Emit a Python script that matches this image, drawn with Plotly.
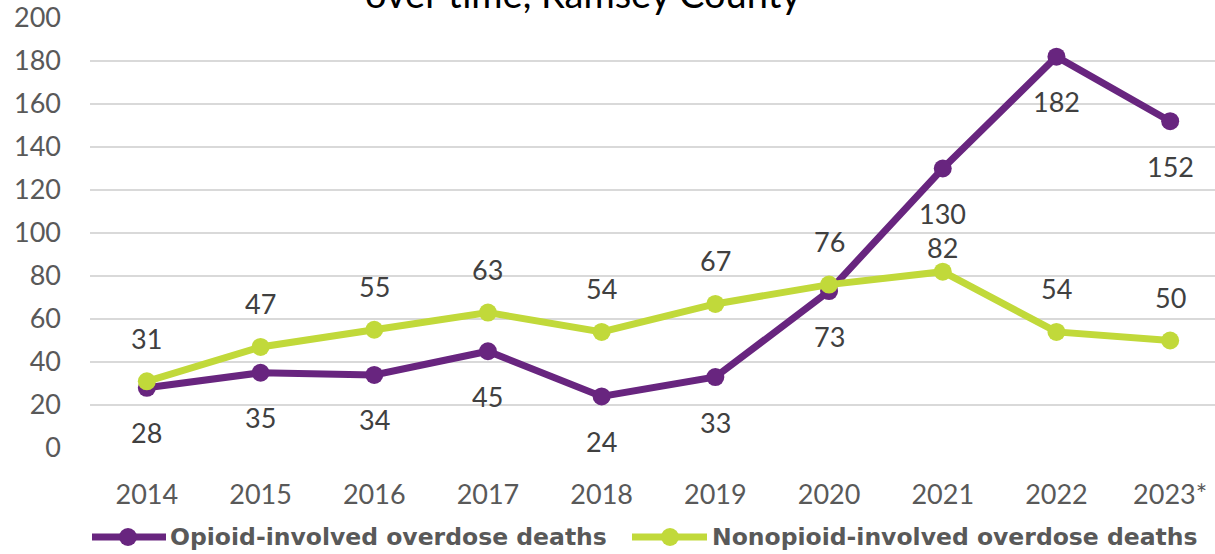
import plotly.graph_objects as go

years = ["2014", "2015", "2016", "2017", "2018", "2019", "2020", "2021", "2022", "2023*"]
opioid = [28, 35, 34, 45, 24, 33, 73, 130, 182, 152]
nonopioid = [31, 47, 55, 63, 54, 67, 76, 82, 54, 50]
series_names = ["Opioid-involved overdose deaths", "Nonopioid-involved overdose deaths"]
title_text = "over time, Ramsey County"

PURPLE = "#68257F"
GREEN = "#C1D93A"
TXT = "#595959"
LBL = "#404040"
FONT = "Lato"

W, H = 1215, 554
L, R, T, B = 90, 0, 18, 106
PW, PH = W - L - R, H - T - B
band = 113.7

fig = go.Figure()
fig.add_trace(go.Scatter(x=years, y=opioid, mode="lines+markers",
                         line=dict(color=PURPLE, width=7),
                         marker=dict(size=18, color=PURPLE),
                         name=series_names[0], showlegend=False, hoverinfo="skip"))
fig.add_trace(go.Scatter(x=years, y=nonopioid, mode="lines+markers",
                         line=dict(color=GREEN, width=7),
                         marker=dict(size=18, color=GREEN),
                         name=series_names[1], showlegend=False, hoverinfo="skip"))

annotations = []
for i, yv in enumerate(opioid):
    annotations.append(dict(x=i, y=yv, xref="x", yref="y", text=str(yv), showarrow=False,
                            yshift=-45, font=dict(family=FONT, size=27, color=LBL)))
for i, yv in enumerate(nonopioid):
    shift = 24 if years[i] == "2021" else 43
    annotations.append(dict(x=i, y=yv, xref="x", yref="y", text=str(yv), showarrow=False,
                            yshift=shift, font=dict(family=FONT, size=27, color=LBL)))

def px(xp):
    return (xp - L) / PW

def py(yp):
    return (T + PH - yp) / PH

# title (cut off at top)
annotations.append(dict(x=px(583), y=py(-7), xref="paper", yref="paper", text=title_text,
                        showarrow=False, xanchor="center", yanchor="middle",
                        font=dict(family=FONT, size=38, color="#000000")))

# manual legend
shapes = []
leg_y = 537
legend_items = [(92, 166, 128, 168, PURPLE, series_names[0]),
                (632, 707, 670, 710, GREEN, series_names[1])]
for x0, x1, mx, tx, col, name in legend_items:
    shapes.append(dict(type="line", xref="paper", yref="paper", x0=px(x0), x1=px(x1),
                       y0=py(leg_y), y1=py(leg_y), line=dict(color=col, width=7)))
    shapes.append(dict(type="circle", xref="paper", yref="paper", x0=px(mx - 9), x1=px(mx + 9),
                       y0=py(leg_y + 9), y1=py(leg_y - 9), fillcolor=col, line=dict(width=0)))
    annotations.append(dict(x=px(tx), y=py(leg_y), xref="paper", yref="paper", text="<b>" + name + "</b>",
                            showarrow=False, xanchor="left", yanchor="middle",
                            font=dict(family="DejaVu Sans", size=23.5, color=TXT)))

fig.update_layout(
    width=W, height=H, margin=dict(l=L, r=R, t=T, b=B, pad=0),
    paper_bgcolor="white", plot_bgcolor="white",
    showlegend=False,
    annotations=annotations, shapes=shapes,
    xaxis=dict(type="category", range=[-0.5, -0.5 + PW / band], showgrid=False, zeroline=False,
               showline=False, ticks="", ticklabelstandoff=28,
               tickfont=dict(family=FONT, size=27, color=TXT)),
    yaxis=dict(range=[0, 200], dtick=20, showgrid=True, gridcolor="#D9D9D9", gridwidth=2,
               zeroline=False, showline=False, ticks="", ticklabelstandoff=28,
               tickfont=dict(family=FONT, size=27, color=TXT)),
)

fig.write_html("out.html")
